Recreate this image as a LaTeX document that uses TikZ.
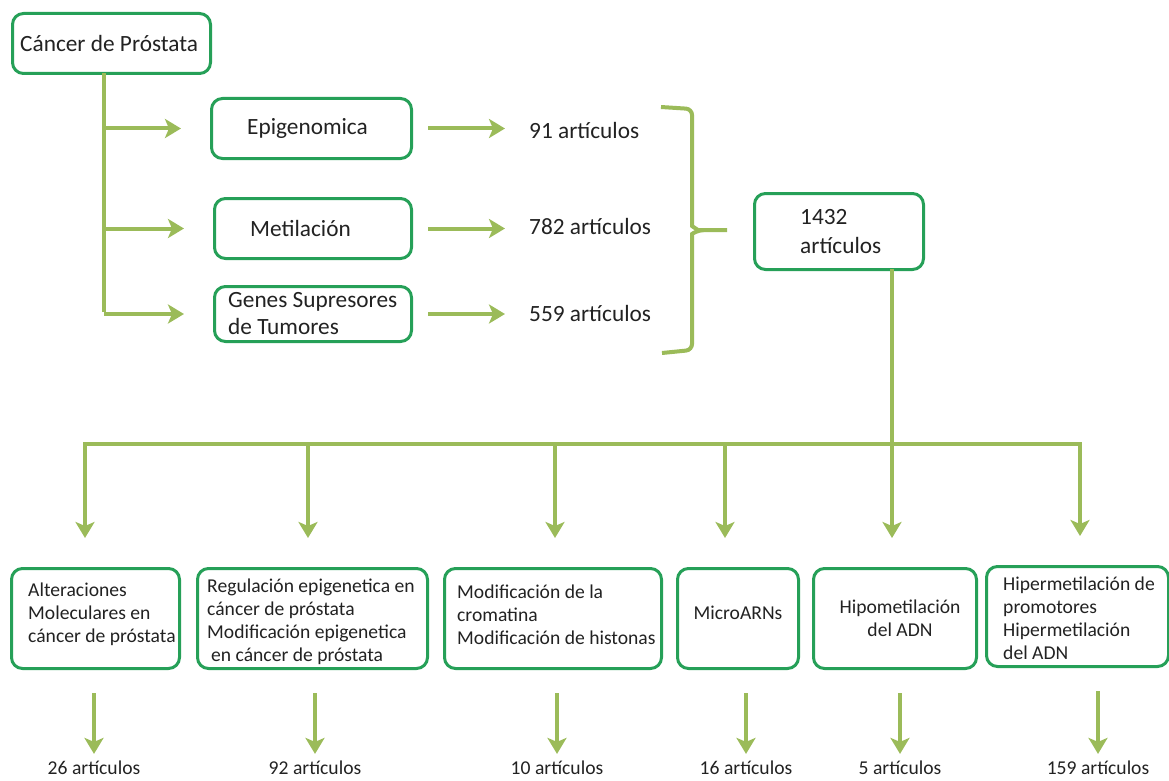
\documentclass[tikz,border=0pt]{standalone}
\usepackage{fontspec}
\setmainfont{Carlito}
\usetikzlibrary{arrows.meta}
\definecolor{boxgreen}{RGB}{38,160,88}
\definecolor{arrowolive}{RGB}{155,187,89}
\definecolor{textgray}{RGB}{34,34,34}

\begin{document}
\begin{tikzpicture}[x=1pt,y=-1pt,
    box/.style={draw=boxgreen,line width=3pt,rounded corners=11pt,fill=white,anchor=north west,inner sep=0pt},
    big/.style={font=\fontsize{23.3}{27}\selectfont,text=textgray,inner sep=0pt,align=left},
    small/.style={font=\fontsize{19.6}{23}\selectfont,text=textgray,inner sep=0pt,align=left},
    link/.style={draw=arrowolive,line width=4pt,line cap=rect},
    arr/.style={draw=arrowolive,line width=4pt,-{Stealth[length=16pt,width=19pt,inset=4pt]}}]
  \useasboundingbox (0,0) rectangle (1169,781);

  % first level
  \node[box,minimum width=198pt,minimum height=60pt] (cancer) at (11,12) {};
  \node[big,anchor=west] (cancer-t) at ([xshift=9pt]cancer.west) {Cáncer de Próstata};

  \node[box,minimum width=200pt,minimum height=60pt] (epi) at (210,97) {};
  \node[big,anchor=west] (epi-t) at ([xshift=37pt]epi.west) {Epigenomica};
  \node[box,minimum width=197pt,minimum height=60pt] (metil) at (213,197) {};
  \node[big,anchor=west] (metil-t) at ([xshift=37pt]metil.west) {Metilación};
  \node[box,minimum width=197pt,minimum height=55pt] (genes) at (213,285) {};
  \node[big,anchor=west] (genes-t) at ([xshift=15pt]genes.west) {Genes Supresores\\de Tumores};

  \node[big,anchor=west] (n91) at (529,130) {91 artículos};
  \node[big,anchor=west] (n782) at (529,226) {782 artículos};
  \node[big,anchor=west] (n559) at (529,313) {559 artículos};

  \coordinate (trunk) at (104,310);
  \draw[link] (cancer.south -| trunk) -- (trunk);
  \foreach \b in {epi,metil,genes}
    \draw[arr,shorten >=29pt] (\b.west -| trunk) -- (\b.west);
  \foreach \b/\n in {epi/n91,metil/n782,genes/n559}
    \draw[arr,shorten <=15pt,shorten >=24pt] (\b.east) -- (\b.east -| \n.west);

  % bracket and total
  \draw[link,line cap=butt,rounded corners=6pt] (661,107) -- (692,109) -- (692,220)
    to[out=-90,in=180] (704,230) -- (727,230);
  \draw[link,line cap=butt,rounded corners=6pt] (704,230) to[out=180,in=90] (692,240)
    -- (692,350) -- (662,353);

  \node[box,minimum width=169pt,minimum height=76pt] (total) at (753,192) {};
  \node[big,anchor=west] (total-t) at ([xshift=47pt]total.west) {1432\\[2pt]artículos};

  % second level
  \node[box,minimum width=168pt,minimum height=100pt] (alt) at (10,567) {};
  \node[small,anchor=west] (alt-t) at ([xshift=18pt,yshift=4pt]alt.west)
    {Alteraciones\\Moleculares en\\cáncer de próstata};
  \node[box,minimum width=230pt,minimum height=100pt] (reg) at (196,567) {};
  \node[small,anchor=west] (reg-t) at ([xshift=11pt,yshift=-3pt]reg.west)
    {Regulación epigenetica en\\cáncer de próstata\\Modificación epigenetica\\\hspace*{4pt}en cáncer de próstata};
  \node[box,minimum width=217pt,minimum height=100pt] (crom) at (443,567) {};
  \node[small,anchor=west] (crom-t) at ([xshift=14pt,yshift=4pt]crom.west)
    {Modificación de la\\cromatina\\Modificación de histonas};
  \node[box,minimum width=121pt,minimum height=100pt] (micro) at (676,567) {};
  \node[small] (micro-t) at ([yshift=6pt]micro.center) {MicroARNs};
  \node[box,minimum width=163pt,minimum height=100pt] (hipo) at (812,567) {};
  \node[small,align=center] (hipo-t) at ([xshift=5pt]hipo.center) {Hipometilación\\del ADN};
  \node[box,minimum width=182pt,minimum height=100pt] (hiper) at (985,565) {};
  \node[small,anchor=west] (hiper-t) at ([xshift=18pt,yshift=-2pt]hiper.west)
    {Hipermetilación de\\promotores\\Hipermetilación\\del ADN};

  \coordinate (hub) at (892,444);
  \draw[link] (total.south -| hub) -- (hub);
  \draw[link] (85,444) -- (1080,444);
  \foreach \x/\b in {85/alt,308/reg,555/crom,725/micro,892/hipo,1080/hiper}
    \draw[arr,shorten >=29pt] (\x,444) -- (\x,444 |- \b.north);

  % counts
  \node[small] (n26) at (94,768) {26 artículos};
  \node[small] (n92) at (315,768) {92 artículos};
  \node[small] (n10) at (557,768) {10 artículos};
  \node[small] (n16) at (746,768) {16 artículos};
  \node[small] (n5) at (900,768) {5 artículos};
  \node[small] (n159) at (1098,768) {159 artículos};
  \foreach \b/\n in {alt/n26,reg/n92,crom/n10,micro/n16,hipo/n5,hiper/n159}
    \draw[arr,shorten <=23pt,shorten >=7pt] (\n.north |- \b.south) -- (\n.north);
\end{tikzpicture}
\end{document}
